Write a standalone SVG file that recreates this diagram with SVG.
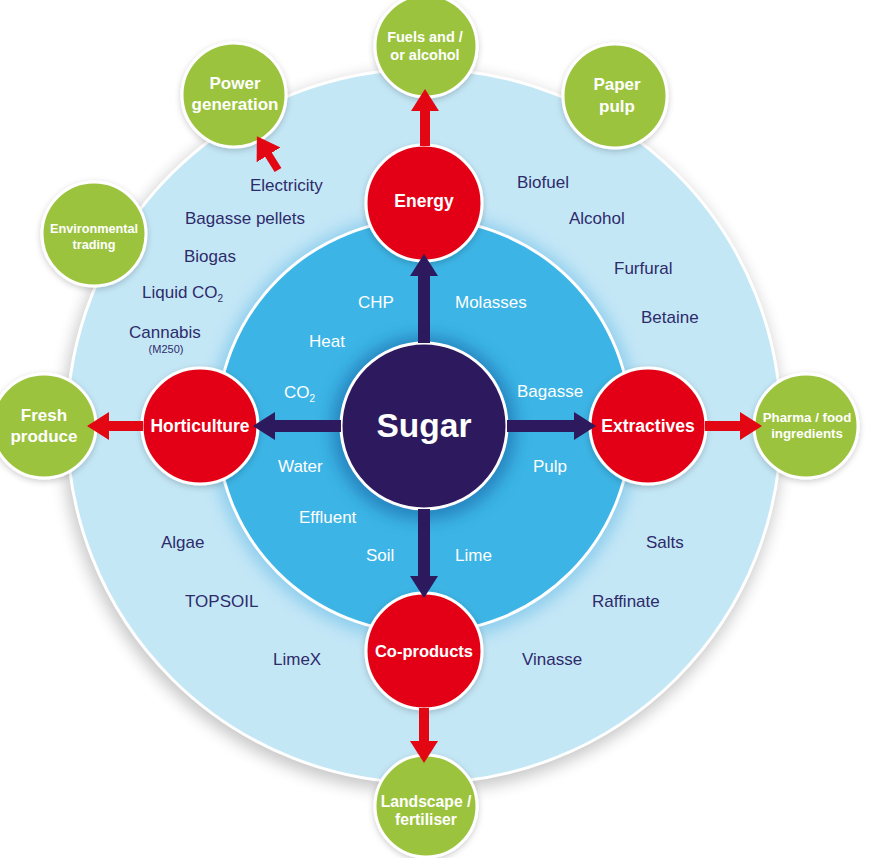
<svg xmlns="http://www.w3.org/2000/svg" width="870" height="858" viewBox="0 0 870 858">
<style>
text{font-family:"Liberation Sans",Arial,Helvetica,sans-serif}
.out{font-size:17px;fill:#2e2b6b}
.inn{font-size:17px;fill:#ffffff}
.red{fill:#e30613;stroke:#ffffff;stroke-width:3}
.grn{fill:#9bc33c;stroke:#ffffff;stroke-width:3}
.rl{font-size:17.5px;font-weight:bold;fill:#ffffff;text-anchor:middle}
.gl{font-weight:bold;fill:#ffffff;text-anchor:middle}
.nav{stroke:#2d1a5e;stroke-width:12;fill:none}
.ra{stroke:#e30613;stroke-width:10;fill:none}
</style>
<defs>
<filter id="blur8" x="-20%" y="-20%" width="140%" height="140%"><feGaussianBlur stdDeviation="8"/></filter>
<filter id="blur6" x="-30%" y="-30%" width="160%" height="160%"><feGaussianBlur stdDeviation="6"/></filter>
<filter id="ds" x="-30%" y="-30%" width="160%" height="160%"><feDropShadow dx="0" dy="2" stdDeviation="3" flood-color="#000" flood-opacity="0.2"/></filter>
<marker id="hn" markerUnits="userSpaceOnUse" markerWidth="22" markerHeight="28" refX="1" refY="14" orient="auto"><path d="M0,0 L22,14 L0,28 z" fill="#2d1a5e"/></marker>
<marker id="hr" markerUnits="userSpaceOnUse" markerWidth="22" markerHeight="28" refX="1" refY="14" orient="auto"><path d="M0,0 L22,14 L0,28 z" fill="#e30613"/></marker>
</defs>
<rect width="870" height="858" fill="#ffffff"/>
<g id="rings">
<circle cx="422" cy="432" r="360" fill="#000" opacity="0.22" filter="url(#blur8)"/>
<circle cx="424" cy="426" r="357" fill="#c4e7f6" stroke="#ffffff" stroke-width="3"/>
<circle cx="424" cy="428" r="214" fill="#7fc6ea" opacity="0.8" filter="url(#blur8)"/>
<circle cx="424" cy="426" r="207" fill="#3cb4e5" stroke="#ffffff" stroke-width="3"/>
<circle cx="424" cy="428" r="92" fill="#1f6fae" opacity="0.7" filter="url(#blur8)"/>
</g>
<g id="outer-labels">
<text class="out" x="250" y="191">Electricity</text>
<text class="out" x="185" y="224">Bagasse pellets</text>
<text class="out" x="184" y="262">Biogas</text>
<text class="out" x="142" y="298">Liquid CO<tspan font-size="10" dy="4">2</tspan></text>
<text class="out" x="129" y="338">Cannabis</text>
<text class="out" x="166" y="353" font-size="11" text-anchor="middle" style="font-size:11px">(M250)</text>
<text class="out" x="517" y="188">Biofuel</text>
<text class="out" x="569" y="224">Alcohol</text>
<text class="out" x="614" y="274">Furfural</text>
<text class="out" x="641" y="323">Betaine</text>
<text class="out" x="161" y="548">Algae</text>
<text class="out" x="185" y="607">TOPSOIL</text>
<text class="out" x="273" y="665">LimeX</text>
<text class="out" x="646" y="548">Salts</text>
<text class="out" x="592" y="607">Raffinate</text>
<text class="out" x="522" y="665">Vinasse</text>
</g>
<g id="inner-labels">
<text class="inn" x="358" y="308">CHP</text>
<text class="inn" x="455" y="308">Molasses</text>
<text class="inn" x="309" y="347">Heat</text>
<text class="inn" x="284" y="398">CO<tspan font-size="10" dy="4">2</tspan></text>
<text class="inn" x="517" y="397">Bagasse</text>
<text class="inn" x="278" y="472">Water</text>
<text class="inn" x="533" y="472">Pulp</text>
<text class="inn" x="299" y="523">Effluent</text>
<text class="inn" x="366" y="561">Soil</text>
<text class="inn" x="455" y="561">Lime</text>
</g>
<g id="sugar">
<circle cx="424" cy="426" r="83" fill="#2d1a5e" stroke="#ffffff" stroke-width="3"/>
<text x="424" y="437" text-anchor="middle" font-size="33.5" font-weight="bold" fill="#ffffff">Sugar</text>
</g>
<g id="energy">
<circle class="red" cx="424" cy="203" r="58" filter="url(#ds)"/>
<text class="rl" x="424" y="207">Energy</text>
</g>
<g id="horticulture">
<circle class="red" cx="200" cy="426" r="58" filter="url(#ds)"/>
<text class="rl" x="200" y="432">Horticulture</text>
</g>
<g id="extractives">
<circle class="red" cx="648" cy="426" r="58" filter="url(#ds)"/>
<text class="rl" x="648" y="432">Extractives</text>
</g>
<g id="co-products">
<circle class="red" cx="424" cy="651" r="58" filter="url(#ds)"/>
<text class="rl" x="424" y="657" style="font-size:16.5px">Co-products</text>
</g>
<g id="fuels">
<circle class="grn" cx="426" cy="46" r="51" filter="url(#ds)"/>
<text class="gl" x="425" y="42" font-size="14.5">Fuels and /</text>
<text class="gl" x="425" y="60" font-size="14.5">or alcohol</text>
</g>
<g id="power-generation">
<circle class="grn" cx="234" cy="95" r="52" filter="url(#ds)"/>
<text class="gl" x="235" y="89" font-size="17">Power</text>
<text class="gl" x="235" y="110" font-size="17">generation</text>
</g>
<g id="paper-pulp">
<circle class="grn" cx="615" cy="96" r="52" filter="url(#ds)"/>
<text class="gl" x="617" y="90" font-size="17">Paper</text>
<text class="gl" x="617" y="112" font-size="17">pulp</text>
</g>
<g id="environmental-trading">
<circle class="grn" cx="94" cy="234" r="52" filter="url(#ds)"/>
<text class="gl" x="94" y="233" font-size="12.7">Environmental</text>
<text class="gl" x="94" y="249" font-size="12.7">trading</text>
</g>
<g id="fresh-produce">
<circle class="grn" cx="44" cy="426" r="52" filter="url(#ds)"/>
<text class="gl" x="44" y="421" font-size="17">Fresh</text>
<text class="gl" x="44" y="442" font-size="17">produce</text>
</g>
<g id="pharma">
<circle class="grn" cx="806" cy="426" r="52" filter="url(#ds)"/>
<text class="gl" x="807" y="422" font-size="13.3">Pharma / food</text>
<text class="gl" x="807" y="438" font-size="13.3">ingredients</text>
</g>
<g id="landscape">
<circle class="grn" cx="426" cy="806" r="51" filter="url(#ds)"/>
<text class="gl" x="426" y="807" font-size="15.7">Landscape /</text>
<text class="gl" x="426" y="825" font-size="15.7">fertiliser</text>
</g>
<g id="connectors">
<line class="nav" x1="424" y1="343" x2="424" y2="275" marker-end="url(#hn)"/>
<line class="nav" x1="341" y1="426" x2="274" y2="426" marker-end="url(#hn)"/>
<line class="nav" x1="507" y1="426" x2="575" y2="426" marker-end="url(#hn)"/>
<line class="nav" x1="424" y1="509" x2="424" y2="577" marker-end="url(#hn)"/>
<line class="ra" x1="425" y1="146" x2="425" y2="110" marker-end="url(#hr)"/>
<line class="ra" x1="143" y1="426" x2="108" y2="426" marker-end="url(#hr)"/>
<line class="ra" x1="705" y1="426" x2="741" y2="426" marker-end="url(#hr)"/>
<line class="ra" x1="424" y1="708" x2="424" y2="742" marker-end="url(#hr)"/>
<line class="ra" style="stroke-width:8" x1="278" y1="170" x2="268" y2="154" marker-end="url(#hr)"/>
</g>
</svg>
